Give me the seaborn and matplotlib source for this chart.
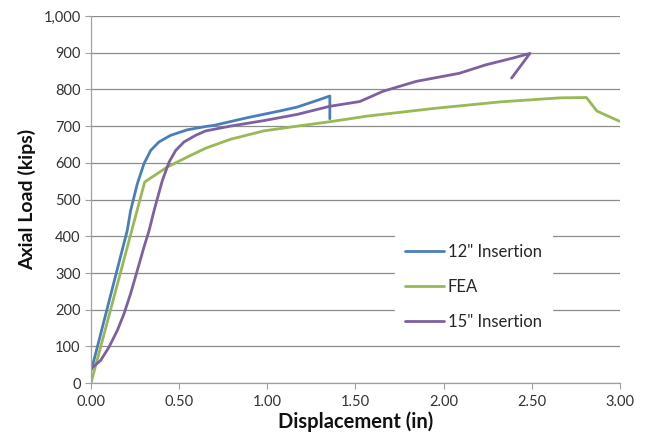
import matplotlib
matplotlib.use("Agg")
import matplotlib.pyplot as plt
import matplotlib.ticker as mticker
import seaborn as sns
import pandas as pd

# Data
x_12in = [0.00, 0.007, 0.206, 0.225, 0.263, 0.301, 0.339, 0.386, 0.452, 0.547, 0.651, 0.697,
          0.887, 1.078, 1.17, 1.27, 1.355, 1.355]
y_12in = [34, 44, 416, 470, 543, 598, 634, 657, 675, 690, 699, 702,
          723, 742, 752, 768, 782, 720]

x_fea = [0.00, 0.305, 0.434, 0.547, 0.651, 0.79, 0.98, 1.17, 1.355, 1.5625, 1.94, 2.32,
         2.66, 2.81, 2.87, 3.00]
y_fea = [0, 548, 589, 616, 640, 664, 687, 700, 712, 727, 748, 766,
         777, 778, 741, 713]

x_15in = [0.00, 0.055, 0.102, 0.15, 0.1875, 0.225, 0.263, 0.301, 0.33, 0.358, 0.405, 0.443,
          0.481, 0.528, 0.594, 0.651, 0.79, 0.98, 1.17, 1.354, 1.525, 1.657, 1.846, 2.09,
          2.24, 2.39, 2.49, 2.386]
y_15in = [39, 62, 98, 144, 189, 244, 307, 371, 416, 470, 552, 602,
          634, 657, 675, 687, 700, 715, 732, 754, 767, 795, 822, 844,
          867, 885, 898, 831]

series = ['12" Insertion', 'FEA', '15" Insertion']
colors = ['#4A7EBB', '#98B954', '#7D60A0']

rows = []
for name, xs, ys in zip(series, [x_12in, x_fea, x_15in], [y_12in, y_fea, y_15in]):
    for i, (xv, yv) in enumerate(zip(xs, ys)):
        rows.append({"series": name, "order": i, "x": xv, "y": yv})
df = pd.DataFrame(rows)

sns.set_theme(style="white")
plt.rcParams['font.family'] = ['Lato', 'DejaVu Sans']

fig = plt.figure(figsize=(6.45, 4.44), dpi=100)
ax = fig.add_axes([0.141, 0.137, 0.82, 0.827])

sns.lineplot(data=df, x="x", y="y", hue="series", hue_order=series,
             palette=dict(zip(series, colors)), sort=False, estimator=None,
             units="series", linewidth=2.0, ax=ax)

ax.set_xlim(0, 3.0)
ax.set_ylim(0, 1000)
ax.set_xticks([0, 0.5, 1.0, 1.5, 2.0, 2.5, 3.0])
ax.set_yticks(range(0, 1001, 100))
ax.xaxis.set_major_formatter(mticker.FormatStrFormatter('%.2f'))
ax.yaxis.set_major_formatter(mticker.StrMethodFormatter('{x:,.0f}'))
ax.grid(axis='y', color='#8C8C8C', linewidth=0.9)
ax.set_axisbelow(True)

for s in ['top', 'right']:
    ax.spines[s].set_visible(False)
for s in ['left', 'bottom']:
    ax.spines[s].set_color('#A0A0A0')
    ax.spines[s].set_linewidth(0.9)

ax.tick_params(axis='both', which='major', direction='out', length=4.5, width=0.8,
               color='#A0A0A0', labelsize=10.5, labelcolor='#333333', pad=3)
ax.tick_params(axis='x', bottom=True, pad=4)
ax.tick_params(axis='y', left=True)

ax.set_xlabel('Displacement (in)', fontsize=14.5, fontweight='bold', labelpad=2, color='#111111')
ax.set_ylabel('Axial Load (kips)', fontsize=14, fontweight='bold', labelpad=5, color='#111111')

leg = ax.legend(loc='lower left', bbox_to_anchor=(0.56, 0.095), frameon=True,
                fontsize=12, handlelength=2.3, labelspacing=1.15, handletextpad=0.25,
                borderpad=0.6)
leg.get_frame().set_facecolor('white')
leg.get_frame().set_edgecolor('white')
leg.get_frame().set_alpha(1.0)
for line in leg.get_lines():
    line.set_linewidth(2.0)

fig.savefig('out.png', dpi=100)
